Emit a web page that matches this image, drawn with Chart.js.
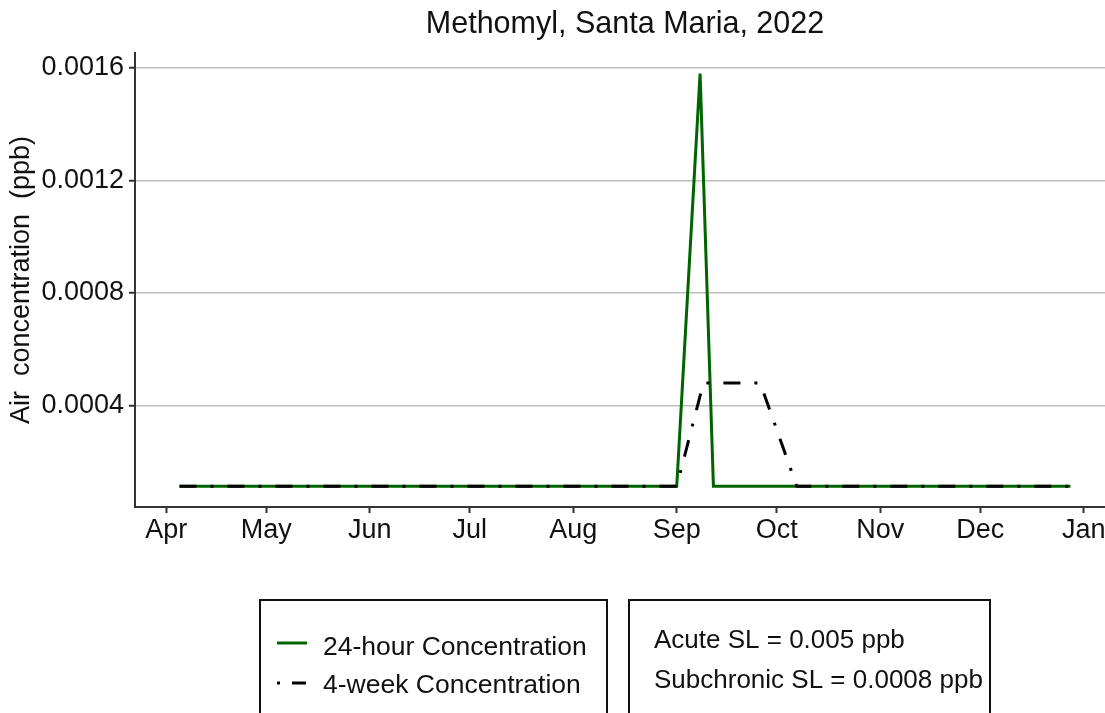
<!DOCTYPE html>
<html>
<head>
<meta charset="utf-8">
<script src="https://cdn.jsdelivr.net/npm/chart.js@4.4.1/dist/chart.umd.min.js"></script>
<style>
  html, body { margin: 0; padding: 0; background: #fff; overflow: hidden; }
  #wrap { width: 1105px; height: 713px; overflow: hidden; }
</style>
</head>
<body>
<div id="wrap"><canvas id="chart" width="1125" height="713"></canvas></div>
<script>
// Data
const chartTitle = 'Methomyl, Santa Maria, 2022';
const yAxisTitle = 'Air  concentration  (ppb)';

const monthLabels = ['Apr', 'May', 'Jun', 'Jul', 'Aug', 'Sep', 'Oct', 'Nov', 'Dec', 'Jan'];
const monthStarts = ['2022-04-01', '2022-05-01', '2022-06-01', '2022-07-01', '2022-08-01',
                     '2022-09-01', '2022-10-01', '2022-11-01', '2022-12-01', '2023-01-01'];
const yTicks = [0.0004, 0.0008, 0.0012, 0.0016];

// 24-hour samples
const dates24h = ['2022-04-05', '2022-09-01', '2022-09-08', '2022-09-12', '2022-12-28'];
const conc24h = [0.000112, 0.000112, 0.00158, 0.000112, 0.000112];

// 4-week averages
const dates4wk = ['2022-04-05', '2022-09-01', '2022-09-09', '2022-09-26', '2022-10-07', '2022-12-28'];
const conc4wk = [0.000112, 0.000112, 0.00048, 0.00048, 0.000112, 0.000112];

const legendLabels = ['24-hour Concentration', '4-week Concentration'];
const screeningLevels = ['Acute SL = 0.005 ppb', 'Subchronic SL = 0.0008 ppb'];

// helpers
function toDay(s) {
    return Date.parse(s) / 86400000;
}
function toPoints(dates, values) {
    return dates.map((d, i) => ({ x: toDay(d), y: values[i] }));
}

const FONT = '"Liberation Sans", Arial, sans-serif';
const TEXT = '#111';
const GREEN = '#006400';
const DASHDOT = [17, 14, 3, 14];

Chart.defaults.font.family = FONT;
Chart.defaults.color = TEXT;

// ggplot-like 5% expansion of the data range
const allX = dates24h.concat(dates4wk).map(toDay);
const allY = conc24h.concat(conc4wk);
const xMinD = Math.min(...allX), xMaxD = Math.max(...allX);
const yMinD = Math.min(...allY), yMaxD = Math.max(...allY);
const xPad = (xMaxD - xMinD) * 0.05;
const yPad = (yMaxD - yMinD) * 0.05;

// Title centred over the panel, plus the two boxes under the plot
const decorPlugin = {
    id: 'decor',
    afterDraw(chart) {
        const ctx = chart.ctx;
        const area = chart.chartArea;
        ctx.save();
        ctx.fillStyle = TEXT;
        ctx.font = '30.5px ' + FONT;
        ctx.textAlign = 'center';
        ctx.textBaseline = 'middle';
        ctx.fillText(chartTitle, (area.left + area.right) / 2, 25);

        // boxes
        ctx.strokeStyle = '#111';
        ctx.lineWidth = 2;
        ctx.strokeRect(260, 600, 347, 140);
        ctx.strokeRect(629, 600, 361, 140);

        // legend keys
        ctx.lineWidth = 3;
        ctx.strokeStyle = GREEN;
        ctx.beginPath();
        ctx.moveTo(277, 643);
        ctx.lineTo(307, 643);
        ctx.stroke();

        ctx.strokeStyle = '#000';
        ctx.setLineDash([3, 12, 14, 30]);
        ctx.beginPath();
        ctx.moveTo(277, 683);
        ctx.lineTo(307, 683);
        ctx.stroke();
        ctx.setLineDash([]);

        ctx.font = '26.5px ' + FONT;
        ctx.textAlign = 'left';
        ctx.textBaseline = 'alphabetic';
        ctx.fillText(legendLabels[0], 323, 655);
        ctx.fillText(legendLabels[1], 323, 693);

        ctx.font = '26px ' + FONT;
        ctx.fillText(screeningLevels[0], 654, 648);
        ctx.fillText(screeningLevels[1], 654, 688);
        ctx.restore();
    }
};

const ctx = document.getElementById('chart').getContext('2d');
new Chart(ctx, {
    type: 'line',
    data: {
        datasets: [
            {
                label: legendLabels[0],
                data: toPoints(dates24h, conc24h),
                borderColor: GREEN,
                borderWidth: 3,
                pointRadius: 0,
                tension: 0,
                order: 2
            },
            {
                label: legendLabels[1],
                data: toPoints(dates4wk, conc4wk),
                borderColor: '#000',
                borderWidth: 3,
                borderDash: DASHDOT,
                borderCapStyle: 'butt',
                pointRadius: 0,
                tension: 0,
                order: 1
            }
        ]
    },
    options: {
        responsive: false,
        animation: false,
        layout: { padding: { top: 53, right: 10, bottom: 156, left: 0 } },
        plugins: {
            legend: { display: false },
            title: { display: false },
            tooltip: { enabled: false }
        },
        scales: {
            x: {
                type: 'linear',
                min: xMinD - xPad,
                max: xMaxD + xPad,
                afterBuildTicks: scale => {
                    scale.ticks = monthStarts.map(s => ({ value: toDay(s) }));
                },
                afterFit: scale => { scale.height = 50; },
                ticks: {
                    autoSkip: false,
                    maxRotation: 0,
                    padding: 1,
                    font: { size: 27 },
                    color: TEXT,
                    callback: (value, index) => monthLabels[index]
                },
                grid: {
                    drawOnChartArea: false,
                    tickLength: 6,
                    tickColor: '#333',
                    tickWidth: 2
                },
                border: { color: '#333', width: 2 }
            },
            y: {
                min: yMinD - yPad,
                max: yMaxD + yPad,
                afterBuildTicks: scale => {
                    scale.ticks = yTicks.map(v => ({ value: v }));
                },
                afterFit: scale => { scale.width = 135; },
                ticks: {
                    padding: 5,
                    font: { size: 27 },
                    color: TEXT,
                    callback: value => value.toFixed(4)
                },
                grid: {
                    color: '#bebebe',
                    lineWidth: 1.5,
                    tickLength: 6,
                    tickColor: '#333',
                    tickWidth: 2
                },
                border: { color: '#333', width: 2 },
                title: {
                    display: true,
                    text: yAxisTitle,
                    font: { size: 27 },
                    color: TEXT,
                    padding: { top: 5, bottom: 0 }
                }
            }
        }
    },
    plugins: [decorPlugin]
});
</script>
</body>
</html>
